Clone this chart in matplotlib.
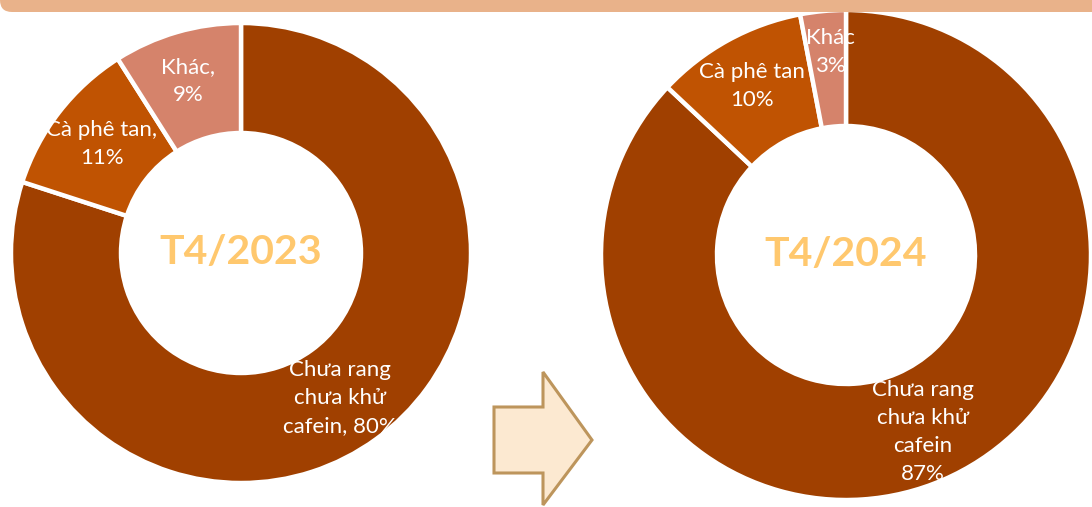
import matplotlib
matplotlib.use("Agg")
import matplotlib.pyplot as plt
from matplotlib.patches import Polygon, FancyBboxPatch

plt.rcParams['font.family'] = ['Lato', 'Noto Sans', 'DejaVu Sans']

# ---- data ----
categories_2023 = ["Chưa rang chưa khử cafein", "Cà phê tan", "Khác"]
values_2023 = [80, 11, 9]
labels_2023 = ["Chưa rang\nchưa khử\ncafein, 80%", "Cà phê tan,\n11%", "Khác,\n9%"]

categories_2024 = ["Chưa rang chưa khử cafein", "Cà phê tan", "Khác"]
values_2024 = [87, 10, 3]
labels_2024 = ["Chưa rang\nchưa khử\ncafein\n87%", "Cà phê tan\n10%", "Khác\n3%"]

titles = ["T4/2023", "T4/2024"]

colors = ["#A04000", "#C05302", "#D5836B"]

W, H = 1092, 507
fig = plt.figure(figsize=(W / 100, H / 100), dpi=100)
ax = fig.add_axes([0, 0, 1, 1])


def py(y):
    return H - y


def donut(values, labels, title, cx, cy, R, r, label_pos, clip_last=False):
    wedges, _ = ax.pie(values, colors=colors, startangle=90, counterclock=False,
                       center=(cx, py(cy)), radius=R, frame=True,
                       wedgeprops=dict(width=R - r, edgecolor="white", linewidth=3.2))
    for i, (lab, (lx, ly)) in enumerate(zip(labels, label_pos)):
        t = ax.text(lx, py(ly), lab, ha="center", va="center", color="white",
                    fontsize=16, linespacing=1.48)
        if clip_last and i == len(labels) - 1:
            t.set_clip_path(wedges[i])
    ax.text(cx, py(cy), title, ha="center", va="center", color="#FFC86E",
            fontsize=29.5, fontweight="bold")


donut(values_2023, labels_2023, titles[0], 241, 253, 230, 120,
      [(340, 398), (102, 144), (188, 81)])
donut(values_2024, labels_2024, titles[1], 846, 255, 245, 129,
      [(923, 432), (752, 86), (830, 52)], clip_last=True)

# arrow
arrow = Polygon([(494, py(407)), (543, py(407)), (543, py(372)), (592, py(440)),
                 (543, py(505)), (543, py(473)), (494, py(473))],
                closed=True, facecolor="#FCE9D1", edgecolor="#BD955C", linewidth=2.2,
                zorder=3)
ax.add_patch(arrow)

# top band
band = FancyBboxPatch((0, py(12)), 1120, 40, boxstyle="round,pad=0,rounding_size=12",
                      facecolor="#E8AC80", edgecolor="none", alpha=0.92, zorder=5)
ax.add_patch(band)

ax.set_xlim(0, W)
ax.set_ylim(0, H)
ax.set_aspect("equal")
ax.axis("off")

fig.savefig("out.png", dpi=100, facecolor="white")
